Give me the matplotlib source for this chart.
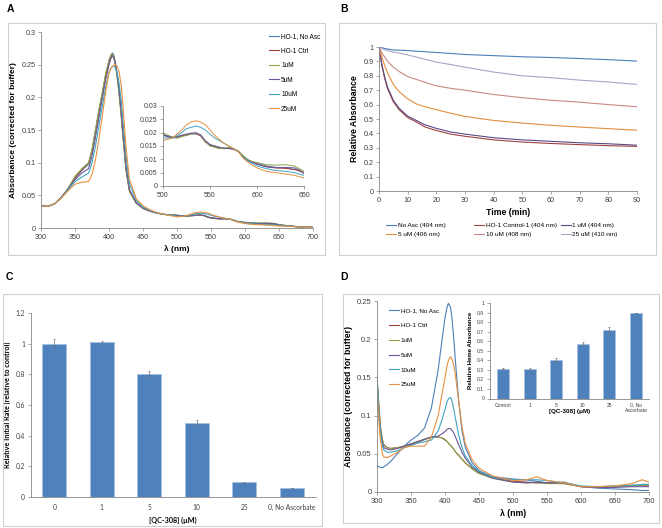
import matplotlib
matplotlib.use("Agg")
import matplotlib.pyplot as plt
from matplotlib.patches import Rectangle
from matplotlib.ticker import FormatStrFormatter

plt.rcParams["font.family"] = ["Liberation Sans", "DejaVu Sans"]

# ---------------- panel A : spectra ----------------
a_labels = ["HO-1, No Asc", "HO-1 Ctrl", "1uM", "5uM", "10uM", "25uM"]
a_colors = ["#4A7EBB", "#A0413E", "#8CA64A", "#6E5596", "#3FA4C0", "#E8913F"]

wl_a1 = [300, 310, 320, 330, 340, 350, 360, 370, 375, 380, 385, 390, 395, 400, 403, 405, 407,
         410, 413, 415, 418, 420, 425, 430, 440, 450, 460, 470, 480, 490]
a1 = [
    [0.034, 0.033, 0.037, 0.047, 0.060, 0.076, 0.088, 0.098, 0.118, 0.148, 0.178, 0.205, 0.234, 0.256, 0.265, 0.268, 0.265,
     0.25, 0.228, 0.208, 0.175, 0.15, 0.092, 0.058, 0.038, 0.030, 0.026, 0.023, 0.021, 0.020],
    [0.034, 0.033, 0.037, 0.047, 0.060, 0.077, 0.089, 0.099, 0.118, 0.147, 0.176, 0.203, 0.232, 0.254, 0.262, 0.265, 0.262,
     0.248, 0.226, 0.206, 0.173, 0.148, 0.09, 0.057, 0.038, 0.030, 0.026, 0.023, 0.021, 0.020],
    [0.034, 0.033, 0.037, 0.047, 0.061, 0.079, 0.091, 0.100, 0.120, 0.150, 0.18, 0.207, 0.236, 0.257, 0.265, 0.266, 0.262,
     0.246, 0.222, 0.202, 0.17, 0.145, 0.088, 0.056, 0.038, 0.030, 0.026, 0.023, 0.021, 0.020],
    [0.034, 0.033, 0.037, 0.047, 0.060, 0.074, 0.084, 0.091, 0.11, 0.138, 0.168, 0.197, 0.226, 0.25, 0.26, 0.263, 0.261,
     0.248, 0.228, 0.21, 0.178, 0.152, 0.094, 0.059, 0.039, 0.031, 0.026, 0.023, 0.021, 0.020],
    [0.034, 0.033, 0.037, 0.046, 0.059, 0.071, 0.078, 0.084, 0.1, 0.125, 0.155, 0.185, 0.215, 0.238, 0.245, 0.247, 0.248,
     0.245, 0.232, 0.22, 0.195, 0.17, 0.11, 0.068, 0.042, 0.032, 0.027, 0.023, 0.021, 0.020],
    [0.034, 0.033, 0.037, 0.046, 0.057, 0.067, 0.070, 0.071, 0.082, 0.104, 0.135, 0.17, 0.208, 0.238, 0.245, 0.247, 0.249,
     0.25, 0.245, 0.238, 0.218, 0.195, 0.124, 0.075, 0.045, 0.034, 0.028, 0.024, 0.021, 0.019],
]

# 500-650 nm (shown in the inset)
wl_a2 = [500, 505, 510, 515, 520, 525, 530, 535, 540, 545, 550, 555, 560, 565, 570,
         575, 580, 585, 590, 595, 600, 610, 620, 630, 640, 645, 650]
a2 = [
    [0.0190, 0.0185, 0.0180, 0.0185, 0.0190, 0.0190, 0.0195, 0.0195, 0.0190, 0.0170, 0.0155, 0.0150, 0.0145, 0.0140,
     0.0145, 0.0140, 0.0130, 0.0110, 0.0095, 0.0090, 0.0085, 0.0075, 0.0070, 0.0068, 0.0062, 0.0058, 0.0050],
    [0.0195, 0.0185, 0.0182, 0.0180, 0.0188, 0.0192, 0.0198, 0.0196, 0.0188, 0.0165, 0.0152, 0.0148, 0.0142, 0.0140,
     0.0142, 0.0138, 0.0130, 0.0112, 0.0098, 0.0090, 0.0082, 0.0072, 0.0068, 0.0066, 0.0062, 0.0056, 0.0048],
    [0.0200, 0.0190, 0.0185, 0.0180, 0.0185, 0.0190, 0.0195, 0.0198, 0.0190, 0.0168, 0.0150, 0.0145, 0.0140, 0.0142,
     0.0145, 0.0140, 0.0132, 0.0115, 0.0100, 0.0092, 0.0088, 0.0080, 0.0078, 0.0080, 0.0075, 0.0065, 0.0055],
    [0.0190, 0.0188, 0.0182, 0.0185, 0.0190, 0.0195, 0.0198, 0.0200, 0.0192, 0.0170, 0.0155, 0.0150, 0.0145, 0.0142,
     0.0140, 0.0138, 0.0130, 0.0110, 0.0095, 0.0088, 0.0082, 0.0072, 0.0068, 0.0070, 0.0068, 0.0060, 0.0048],
    [0.0180, 0.0180, 0.0180, 0.0190, 0.0200, 0.0215, 0.0220, 0.0225, 0.0220, 0.0210, 0.0195, 0.0180, 0.0170, 0.0160,
     0.0150, 0.0140, 0.0130, 0.0110, 0.0095, 0.0085, 0.0075, 0.0065, 0.0058, 0.0055, 0.0050, 0.0045, 0.0040],
    [0.0170, 0.0175, 0.0180, 0.0195, 0.0210, 0.0230, 0.0240, 0.0245, 0.0240, 0.0230, 0.0210, 0.0190, 0.0175, 0.0160,
     0.0150, 0.0140, 0.0130, 0.0105, 0.0090, 0.0078, 0.0068, 0.0055, 0.0050, 0.0045, 0.0040, 0.0035, 0.0030],
]

wl_a3 = [660, 670, 680, 690, 700]
a3 = [
    [0.0035, 0.0025, 0.0018, 0.0012, 0.0010],
    [0.0035, 0.0025, 0.0018, 0.0012, 0.0010],
    [0.0040, 0.0030, 0.0020, 0.0014, 0.0010],
    [0.0035, 0.0025, 0.0018, 0.0012, 0.0010],
    [0.0032, 0.0024, 0.0017, 0.0012, 0.0010],
    [0.0028, 0.0022, 0.0016, 0.0012, 0.0010],
]

# ---------------- panel B : kinetics ----------------
b_labels = ["No Asc (404 nm)", "HO-1 Control-1 (404 nm)", "1 uM (404 nm)",
            "5 uM (406 nm)", "10 uM (408 nm)", "25 uM (410 nm)"]
b_colors = ["#4A7EBB", "#A0413E", "#5B4A86", "#E48F3E", "#C98885", "#A9A3C6"]
t_b = [0, 1, 2, 3, 5, 7, 10, 13, 16, 20, 25, 30, 40, 50, 60, 70, 80, 90]
b_vals = [
    [1, 0.995, 0.99, 0.986, 0.98, 0.978, 0.975, 0.971, 0.967, 0.962, 0.955, 0.948, 0.94, 0.932, 0.927, 0.92, 0.912, 0.902],
    [1, 0.87, 0.78, 0.71, 0.62, 0.565, 0.51, 0.48, 0.445, 0.42, 0.395, 0.38, 0.355, 0.34, 0.33, 0.322, 0.315, 0.31],
    [1, 0.88, 0.79, 0.72, 0.63, 0.575, 0.52, 0.49, 0.46, 0.435, 0.41, 0.395, 0.37, 0.355, 0.345, 0.335, 0.328, 0.318],
    [1, 0.93, 0.87, 0.82, 0.74, 0.69, 0.64, 0.605, 0.585, 0.565, 0.54, 0.518, 0.49, 0.472, 0.456, 0.444, 0.433, 0.422],
    [1, 0.96, 0.93, 0.9, 0.86, 0.83, 0.795, 0.775, 0.755, 0.73, 0.713, 0.70, 0.67, 0.648, 0.63, 0.617, 0.60, 0.585],
    [1, 0.99, 0.98, 0.975, 0.965, 0.958, 0.945, 0.93, 0.915, 0.895, 0.878, 0.86, 0.826, 0.80, 0.787, 0.77, 0.757, 0.74],
]

# ---------------- panel C : bars ----------------
c_cats = ["0", "1", "5", "10", "25", "0, No Ascorbate"]
c_vals = [1.0, 1.01, 0.80, 0.485, 0.095, 0.06]
c_errs = [0.03, 0.01, 0.02, 0.015, 0.005, 0.0]

# ---------------- panel D : spectra + inset bars ----------------
wl_d = [300, 303, 305, 308, 310, 315, 320, 330, 340, 350, 360, 370, 380, 390, 395, 400, 403, 405,
        408, 410, 413, 415, 420, 425, 430, 440, 450, 470, 500, 520, 535, 550, 575, 600, 625, 650, 675, 690, 700]
d_vals = [
    [0.035, 0.033, 0.032, 0.032, 0.033, 0.036, 0.040, 0.050, 0.060, 0.068, 0.074, 0.084, 0.11, 0.16, 0.195, 0.228, 0.242, 0.247,
     0.242, 0.23, 0.2, 0.175, 0.12, 0.08, 0.058, 0.038, 0.028, 0.02, 0.017, 0.016, 0.014, 0.012, 0.013, 0.007, 0.005, 0.004, 0.003, 0.002, 0.002],
    [0.15, 0.11, 0.085, 0.068, 0.062, 0.058, 0.057, 0.058, 0.06, 0.062, 0.065, 0.069, 0.072, 0.072, 0.071, 0.068, 0.066, 0.064,
     0.061, 0.059, 0.056, 0.053, 0.048, 0.043, 0.038, 0.031, 0.025, 0.019, 0.014, 0.013, 0.012, 0.012, 0.011, 0.007, 0.007, 0.007, 0.008, 0.009, 0.008],
    [0.15, 0.11, 0.085, 0.068, 0.061, 0.058, 0.057, 0.058, 0.06, 0.063, 0.066, 0.069, 0.071, 0.072, 0.071, 0.069, 0.066, 0.064,
     0.061, 0.059, 0.056, 0.053, 0.048, 0.043, 0.038, 0.030, 0.024, 0.018, 0.013, 0.012, 0.012, 0.011, 0.011, 0.007, 0.006, 0.007, 0.008, 0.009, 0.009],
    [0.14, 0.1, 0.08, 0.064, 0.058, 0.056, 0.055, 0.057, 0.06, 0.063, 0.066, 0.069, 0.072, 0.073, 0.076, 0.079, 0.082, 0.083,
     0.083, 0.081, 0.077, 0.073, 0.062, 0.052, 0.044, 0.033, 0.026, 0.018, 0.013, 0.012, 0.013, 0.012, 0.012, 0.007, 0.006, 0.006, 0.007, 0.007, 0.007],
    [0.15, 0.1, 0.078, 0.06, 0.055, 0.052, 0.052, 0.054, 0.058, 0.061, 0.064, 0.066, 0.068, 0.08, 0.093, 0.108, 0.118, 0.122,
     0.124, 0.12, 0.108, 0.098, 0.075, 0.058, 0.047, 0.034, 0.027, 0.019, 0.016, 0.016, 0.016, 0.015, 0.012, 0.008, 0.007, 0.008, 0.009, 0.01, 0.01],
    [0.13, 0.09, 0.068, 0.05, 0.046, 0.045, 0.047, 0.052, 0.058, 0.06, 0.06, 0.06, 0.072, 0.1, 0.125, 0.15, 0.165, 0.172,
     0.177, 0.175, 0.165, 0.155, 0.12, 0.085, 0.063, 0.042, 0.031, 0.021, 0.015, 0.016, 0.02, 0.015, 0.012, 0.007, 0.007, 0.008, 0.011, 0.016, 0.013],
]
d_ins_cats = ["Control", "1", "5", "10", "25", "0, No\nAscorbate"]
d_ins_vals = [0.31, 0.31, 0.405, 0.575, 0.715, 0.90]
d_ins_errs = [0.006, 0.01, 0.018, 0.02, 0.035, 0.0]

W, H = 662, 528
fig = plt.figure(figsize=(W / 100, H / 100), dpi=100)

GRAY = "#868686"
TXT = "#404040"


def ax_at(x0, y0, x1, y1):
    # pixel box (top-left origin) -> figure axes
    return fig.add_axes([x0 / W, 1 - y1 / H, (x1 - x0) / W, (y1 - y0) / H])


def excel_style(ax, fs=5.2):
    for s in ("top", "right"):
        ax.spines[s].set_visible(False)
    for s in ("left", "bottom"):
        ax.spines[s].set_color(GRAY)
        ax.spines[s].set_linewidth(0.6)
    ax.tick_params(direction="out", length=2, width=0.5, color=GRAY, labelsize=fs,
                   labelcolor=TXT, pad=2)
    ax.patch.set_alpha(0)


def frame(x0, y0, x1, y1):
    fig.patches.append(Rectangle((x0 / W, 1 - y1 / H), (x1 - x0) / W, (y1 - y0) / H,
                                 transform=fig.transFigure, fill=False,
                                 edgecolor="#D0D0D0", linewidth=0.8))


for lab, (px, py) in zip("ABCD", [(10, 9), (344, 9), (9, 277), (344, 277)]):
    fig.text(px / W, 1 - py / H, lab, fontsize=7.5, fontweight="bold", ha="center", va="center")

frame(8, 23, 325, 255)
frame(339, 23, 656, 255)
frame(3, 294, 322, 526)
frame(343, 294, 659, 523)

# ---- A ----
axA = ax_at(41, 32, 313, 228)
excel_style(axA)
for i in range(6):
    axA.plot(wl_a1 + wl_a2 + wl_a3, a1[i] + a2[i] + a3[i], color=a_colors[i], lw=0.8, label=a_labels[i])
axA.set_xlim(300, 700)
axA.set_ylim(0, 0.3)
axA.set_xticks(range(300, 701, 50))
axA.set_yticks([0, 0.05, 0.1, 0.15, 0.2, 0.25, 0.3])
axA.yaxis.set_major_formatter(FormatStrFormatter("%g"))
axA.set_xlabel("λ (nm)", fontsize=6, fontweight="bold", labelpad=3)
axA.set_ylabel("Absorbance (corrected for buffer)", fontsize=6, fontweight="bold", labelpad=3)
axA.legend(loc="upper left", bbox_to_anchor=(0.83, 1.008), frameon=False, fontsize=4.7,
           handlelength=1.5, handletextpad=0.3, labelspacing=1.15, borderaxespad=0)

axAi = ax_at(163, 106, 304, 186)
excel_style(axAi, fs=5)
for i in range(6):
    axAi.plot(wl_a2, a2[i], color=a_colors[i], lw=0.7)
axAi.set_xlim(500, 650)
axAi.set_ylim(0, 0.03)
axAi.set_xticks([500, 550, 600, 650])
axAi.set_yticks([0, 0.005, 0.01, 0.015, 0.02, 0.025, 0.03])
axAi.yaxis.set_major_formatter(FormatStrFormatter("%g"))

# ---- B ----
axB = ax_at(379, 47, 637, 191)
excel_style(axB)
lines = []
for i in range(6):
    ln, = axB.plot(t_b, b_vals[i], color=b_colors[i], lw=0.8, label=b_labels[i])
    lines.append(ln)
axB.set_xlim(0, 90)
axB.set_ylim(0, 1)
axB.set_xticks(range(0, 91, 10))
axB.set_yticks([i / 10 for i in range(11)])
axB.yaxis.set_major_formatter(FormatStrFormatter("%g"))
axB.set_xlabel("Time (min)", fontsize=6.3, fontweight="bold", labelpad=3)
axB.set_ylabel("Relative Absorbance", fontsize=6.3, fontweight="bold", labelpad=3)
# legend below the plot: three columns at fixed positions, two rows
for col, x_px in enumerate([386, 474, 561]):
    idx = [col, col + 3]
    fig.legend([lines[k] for k in idx], [b_labels[k] for k in idx],
               loc="upper left", bbox_to_anchor=(x_px / W, 1 - 223 / H), frameon=False,
               fontsize=4.6, handlelength=1.5, handletextpad=0.3,
               labelspacing=0.55, borderaxespad=0, borderpad=0)

# ---- C ----
CF = ["Lato", "DejaVu Sans"]
axC = ax_at(30.5, 313, 315.5, 497)
excel_style(axC, fs=4.8)
xc = range(len(c_cats))
axC.bar(xc, c_vals, width=0.5, color="#4F81BD", edgecolor="#A7C0DE", linewidth=0.6,
        yerr=c_errs, error_kw=dict(ecolor="#707070", elinewidth=0.5, capsize=1, capthick=0.5))
axC.set_xlim(-0.5, 5.5)
axC.set_ylim(0, 1.2)
axC.set_xticks(list(xc))
axC.set_xticklabels(c_cats, family=CF)
axC.tick_params(axis="x", length=0, pad=5)
axC.set_yticks([0, 0.2, 0.4, 0.6, 0.8, 1, 1.2])
axC.yaxis.set_major_formatter(FormatStrFormatter("%g"))
for t in axC.get_yticklabels():
    t.set_family(CF)
axC.set_xlabel("[QC-308] (μM)", fontsize=5.2, fontweight="bold", labelpad=4, family=CF)
axC.set_ylabel("Relative Initial Rate (relative to control)", fontsize=5.2, fontweight="bold",
               family=CF)
axC.yaxis.set_label_coords(-19.5 / 285, 0.5)

# ---- D ----
axD = ax_at(377, 301, 649, 492)
excel_style(axD, fs=5.5)
for i in range(6):
    axD.plot(wl_d, d_vals[i], color=a_colors[i], lw=0.8, label=a_labels[i])
axD.set_xlim(300, 700)
axD.set_ylim(0, 0.25)
axD.set_xticks(range(300, 701, 50))
axD.set_yticks([0, 0.05, 0.1, 0.15, 0.2, 0.25])
axD.yaxis.set_major_formatter(FormatStrFormatter("%g"))
axD.set_xlabel("λ (nm)", fontsize=6.3, fontweight="bold", labelpad=3)
axD.set_ylabel("Absorbance (corrected for buffer)", fontsize=6.3, fontweight="bold", labelpad=3)
axD.legend(loc="upper left", bbox_to_anchor=(0.035, 0.975), frameon=False, fontsize=4.5,
           handlelength=1.6, handletextpad=0.3, labelspacing=1.5, borderaxespad=0)

axDi = ax_at(489.7, 303, 649.3, 398.5)
excel_style(axDi, fs=3.6)
xd = range(len(d_ins_cats))
axDi.bar(xd, d_ins_vals, width=0.45, color="#4F81BD", edgecolor="#A7C0DE", linewidth=0.5,
         yerr=d_ins_errs, error_kw=dict(ecolor="#707070", elinewidth=0.5, capsize=1, capthick=0.5))
axDi.set_xlim(-0.5, 5.5)
axDi.set_ylim(0, 1)
axDi.set_xticks(list(xd))
axDi.set_xticklabels(d_ins_cats, linespacing=1.0)
axDi.tick_params(axis="x", length=0, pad=3)
axDi.set_yticks([i / 10 for i in range(11)])
axDi.yaxis.set_major_formatter(FormatStrFormatter("%g"))
axDi.set_xlabel("[QC-308] (μM)", fontsize=4.5, fontweight="bold", labelpad=-3)
axDi.set_ylabel("Relative Heme Absorbance", fontsize=4.3, fontweight="bold", labelpad=3)

fig.savefig("out.png", dpi=100)
